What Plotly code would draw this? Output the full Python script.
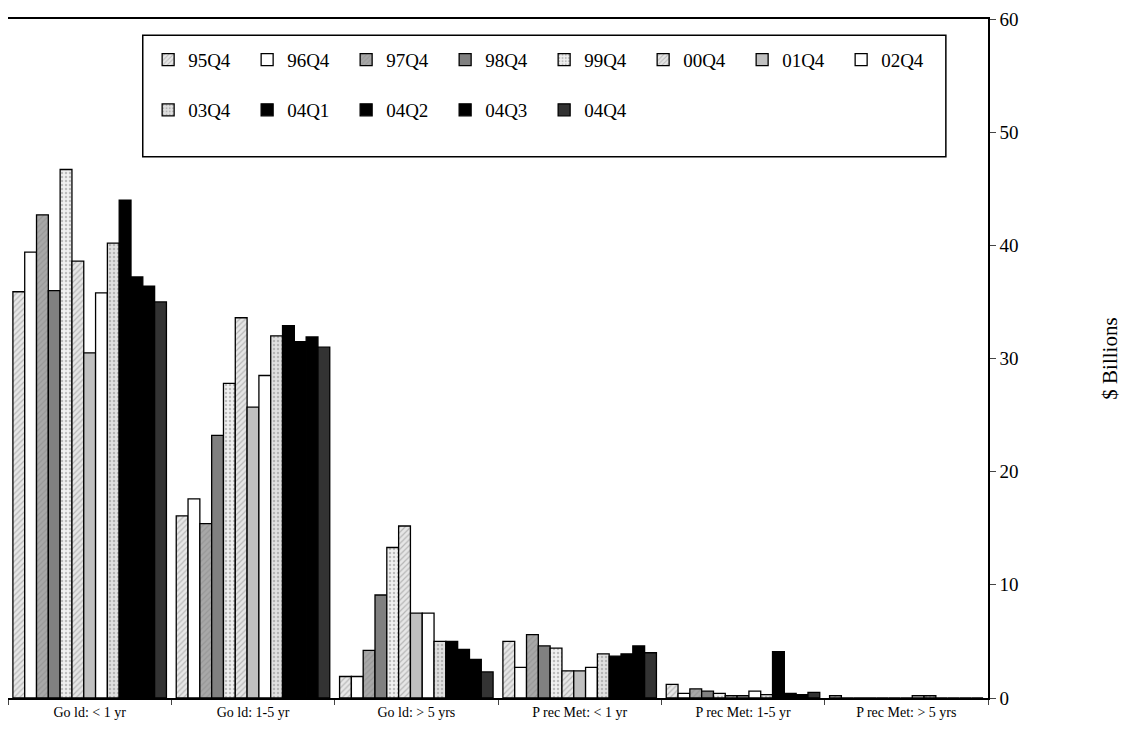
import plotly.graph_objects as go

categories = ['Go ld: < 1 yr', 'Go ld: 1-5 yr', 'Go ld: > 5 yrs',
              'P rec Met: < 1 yr', 'P rec Met: 1-5 yr', 'P rec Met: > 5 yrs']
series = ['95Q4', '96Q4', '97Q4', '98Q4', '99Q4', '00Q4', '01Q4',
          '02Q4', '03Q4', '04Q1', '04Q2', '04Q3', '04Q4']
values = {
    '95Q4': [35.9, 16.1, 1.9, 5.0, 1.2, 0.2],
    '96Q4': [39.4, 17.6, 1.9, 2.7, 0.4, 0.0],
    '97Q4': [42.7, 15.4, 4.2, 5.6, 0.8, 0.0],
    '98Q4': [36.0, 23.2, 9.1, 4.6, 0.6, 0.0],
    '99Q4': [46.7, 27.8, 13.3, 4.4, 0.4, 0.0],
    '00Q4': [38.6, 33.6, 15.2, 2.4, 0.2, 0.0],
    '01Q4': [30.5, 25.7, 7.5, 2.4, 0.2, 0.0],
    '02Q4': [35.8, 28.5, 7.5, 2.7, 0.6, 0.2],
    '03Q4': [40.2, 32.0, 5.0, 3.9, 0.3, 0.2],
    '04Q1': [44.0, 32.9, 5.0, 3.7, 4.1, 0.0],
    '04Q2': [37.2, 31.5, 4.3, 3.9, 0.4, 0.0],
    '04Q3': [36.4, 31.9, 3.4, 4.6, 0.3, 0.0],
    '04Q4': [35.0, 31.0, 2.3, 4.0, 0.5, 0.0],
}

styles = {
    '95Q4': ('#e8e8e8', '/'), '96Q4': ('white', ''), '97Q4': ('#a8a8a8', '/'),
    '98Q4': ('#808080', ''), '99Q4': ('#f0f0f0', '.'), '00Q4': ('#e6e6e6', '/'),
    '01Q4': ('#c0c0c0', ''), '02Q4': ('white', ''), '03Q4': ('#e0e0e0', '.'),
    '04Q1': ('black', ''), '04Q2': ('black', ''), '04Q3': ('black', ''),
    '04Q4': ('#333333', ''),
}

serif = 'Times New Roman'

fig = go.Figure()
for i, s in enumerate(series):
    color, shape = styles[s]
    fig.add_trace(go.Bar(
        x=categories, y=values[s], name=s,
        legend='legend' if i < 8 else 'legend2',
        marker=dict(color=color, line=dict(color='black', width=1.3),
                    pattern=dict(shape=shape, fgcolor='#888888', size=4, solidity=0.3)),
    ))

# legend frame drawn as a shape so the box can be taller than the entries
fig.add_shape(type='rect', xref='paper', yref='paper', x0=0.1375, x1=0.957, y0=0.797, y1=0.976,
              line=dict(color='black', width=1.5), fillcolor='white', layer='below')

leg = dict(orientation='h', xanchor='left', yanchor='middle', borderwidth=0,
           font=dict(size=19, family=serif), entrywidth=54, traceorder='normal',
           bgcolor='rgba(0,0,0,0)')

fig.update_layout(
    width=1140, height=732, barmode='group', bargap=0.06, bargroupgap=0,
    plot_bgcolor='white', paper_bgcolor='white',
    font=dict(family=serif, color='black'),
    margin=dict(l=0, r=160, t=11, b=42, autoexpand=False),
    legend=dict(leg, x=0.143, y=0.94),
    legend2=dict(leg, x=0.143, y=0.866),
    xaxis=dict(showline=True, linecolor='black', linewidth=1.5, mirror=True,
               ticks='outside', tickson='boundaries', ticklen=5,
               tickfont=dict(size=14, family=serif), automargin=False),
    yaxis=dict(side='right', range=[0, 60], dtick=10, showgrid=False,
               showline=True, linecolor='black', linewidth=1.5, mirror=True,
               ticks='outside', ticklen=6, tickfont=dict(size=19, family=serif),
               automargin=False, ticklabeloverflow='allow',
               title=dict(text='$ Billions', font=dict(size=21, family=serif), standoff=85)),
)
fig.write_html("out.html")
